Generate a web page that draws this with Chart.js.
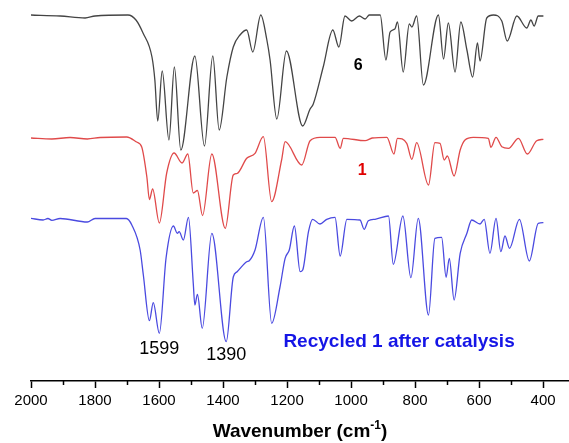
<!DOCTYPE html>
<html>
<head>
<meta charset="utf-8">
<script src="https://cdn.jsdelivr.net/npm/chart.js@4.4.0/dist/chart.umd.min.js"></script>
<style>
  html, body { margin: 0; padding: 0; background: #fff; }
</style>
</head>
<body>
<canvas id="irChart" width="569" height="443"></canvas>
<script>
// wavenumbers (cm-1) and offset transmittance (a.u.)
const wn6 = [2000,1909,1831,1800,1697,1672,1650,1622,1613,1604,1590,1569,1552,1532,1488,1458,1432,1412,1388,1368,1347,1326,1307,1282,1263,1253,1232,1202,1151,1128,1118,1087,1057,1038,1019,998,974,956,943,909,891,878,863,855,837,818,810,795,774,727,711,696,675,657,638,620,605,597,576,555,529,512,482,451,438,428,415,399];
const t6 = [366,365,363,365,366,361,348,324,301,260,310,241,314,231,325,235,325,251,304,334,346,351,329,366,341,321,262,330,255,272,277,314,351,334,365,360,365,362,366,366,321,349,352,359,309,357,354,365,296,366,322,358,309,359,331,304,338,320,363,366,360,340,365,353,361,355,365,365];

const wn1 = [2000,1935,1878,1824,1784,1701,1670,1654,1638,1630,1620,1599,1576,1553,1528,1510,1493,1480,1464,1435,1393,1368,1356,1326,1300,1274,1248,1217,1206,1154,1128,1097,1050,1034,1024,956,934,888,866,855,826,810,795,758,738,722,709,699,678,659,644,618,571,563,547,529,508,477,449,420,399];
const t1 = [243,242,243.5,242,243.5,244,239,234,204,181.5,192,158,208,228,218,227,188,190.5,165.5,227,152.7,206,207.5,222.7,227.7,244.3,179.3,221,239.3,216,240.3,243.7,243.7,232.7,242.7,240.3,243,243.7,227,242.7,237.7,221.7,238.3,196,238.3,237.7,221,225,205,231,241,243.7,242.7,233.7,243.7,234.3,232.7,242.7,227,240.3,241.7];

const wnRec = [2000,1962,1947,1935,1909,1824,1800,1702,1685,1659,1649,1630,1618,1599,1578,1555,1543,1537,1524,1508,1493,1488,1480,1465,1435,1390,1368,1356,1326,1318,1300,1274,1248,1222,1206,1193,1177,1159,1151,1133,1120,1097,1076,1050,1034,1013,972,959,946,925,883,868,838,813,790,758,738,717,703,693,678,659,638,623,597,584,566,547,532,519,505,474,443,415,399];
const tRec = [162.7,161,162.5,160.7,162.5,159,162.5,162.5,156,131,106,60.3,78.3,47.7,123,155,147.7,149.3,141,163.7,97.7,76,86.7,52.7,147.7,39.3,104,109.3,119.3,120.3,131,163.7,57.7,94,122.7,131,155,109.3,111,149.3,161.7,157,161.7,163.7,125,161.7,161,151.7,160.3,161.7,165,116.7,165,103.3,162.7,66,142.7,143.7,103.7,122.7,81,127.7,147.7,161,157,161.7,127.7,162.7,129.3,145,132.7,161.7,120,157.7,158.3];

const majorTicks = [2000,1800,1600,1400,1200,1000,800,600,400];
const minorTicks = [1900,1700,1500,1300,1100,900,700,500];

// text labels placed in data coordinates
const labels = [
  { text: '6', x: 978, y: 315, color: '#000', font: 'bold 16px "Liberation Sans", Arial' },
  { text: '1', x: 965, y: 210, color: '#e00000', font: 'bold 16px "Liberation Sans", Arial' },
  { text: '1599', x: 1599, y: 32, color: '#000', font: '18px "Liberation Sans", Arial' },
  { text: '1390', x: 1390, y: 26, color: '#000', font: '18px "Liberation Sans", Arial' },
  { text: 'Recycled 1 after catalysis', x: 850, y: 39, color: '#1515e6', font: 'bold 19px "Liberation Sans", Arial' }
];

const toPoints = (xs, ys) => xs.map((x, i) => ({ x: x, y: ys[i] }));

// small ticks between the labelled ones
const minorTickPlugin = {
  id: 'minorTickPlugin',
  afterDraw(chart) {
    const sx = chart.scales.x;
    const ctx = chart.ctx;
    const y0 = chart.chartArea.bottom;
    ctx.save();
    ctx.strokeStyle = '#000';
    ctx.lineWidth = 1.5;
    minorTicks.forEach(v => {
      const px = Math.round(sx.getPixelForValue(v)) + 0.5;
      ctx.beginPath();
      ctx.moveTo(px, y0);
      ctx.lineTo(px, y0 + 4);
      ctx.stroke();
    });
    ctx.restore();
  }
};

const textPlugin = {
  id: 'textPlugin',
  afterDraw(chart) {
    const ctx = chart.ctx;
    const sx = chart.scales.x, sy = chart.scales.y;
    ctx.save();
    ctx.textAlign = 'center';
    ctx.textBaseline = 'middle';
    labels.forEach(l => {
      ctx.font = l.font;
      ctx.fillStyle = l.color;
      ctx.fillText(l.text, sx.getPixelForValue(l.x), sy.getPixelForValue(l.y));
    });

    // axis title with superscript
    const ca = chart.chartArea;
    const main = 'Wavenumber (cm';
    const sup = '-1';
    const end = ')';
    const big = 'bold 19px "Liberation Sans", Arial';
    const small = 'bold 12px "Liberation Sans", Arial';
    ctx.font = big;
    const w1 = ctx.measureText(main).width;
    const w3 = ctx.measureText(end).width;
    ctx.font = small;
    const w2 = ctx.measureText(sup).width;
    let x = (ca.left + ca.right) / 2 - (w1 + w2 + w3) / 2;
    const y = 432;
    ctx.textAlign = 'left';
    ctx.fillStyle = '#000';
    ctx.font = big;
    ctx.fillText(main, x, y);
    x += w1;
    ctx.font = small;
    ctx.fillText(sup, x, y - 6);
    x += w2;
    ctx.font = big;
    ctx.fillText(end, x, y);
    ctx.restore();
  }
};

const ctx = document.getElementById('irChart').getContext('2d');

new Chart(ctx, {
  type: 'line',
  data: {
    datasets: [
      { label: '6', data: toPoints(wn6, t6), borderColor: '#444444' },
      { label: '1', data: toPoints(wn1, t1), borderColor: '#e04a4a' },
      { label: 'Recycled 1 after catalysis', data: toPoints(wnRec, tRec), borderColor: '#4a4ae0' }
    ]
  },
  options: {
    responsive: false,
    animation: false,
    elements: {
      point: { radius: 0 },
      line: { borderWidth: 1.3, cubicInterpolationMode: 'monotone', fill: false }
    },
    layout: { padding: { left: 31, right: 0, top: 0, bottom: 29 } },
    scales: {
      x: {
        type: 'linear',
        reverse: true,
        min: 319,
        max: 2000,
        afterBuildTicks: axis => { axis.ticks = majorTicks.map(v => ({ value: v })); },
        ticks: {
          color: '#000',
          padding: 4,
          maxRotation: 0,
          autoSkip: false,
          font: { family: '"Liberation Sans", Arial', size: 15 },
          callback: v => String(v)
        },
        grid: {
          drawOnChartArea: false,
          drawTicks: true,
          tickLength: 7,
          tickColor: '#000',
          tickWidth: 1.5
        },
        border: { display: true, color: '#000', width: 1.5 }
      },
      y: {
        display: false,
        min: 0,
        max: 381
      }
    },
    plugins: {
      legend: { display: false },
      tooltip: { enabled: false }
    }
  },
  plugins: [minorTickPlugin, textPlugin]
});
</script>
</body>
</html>
